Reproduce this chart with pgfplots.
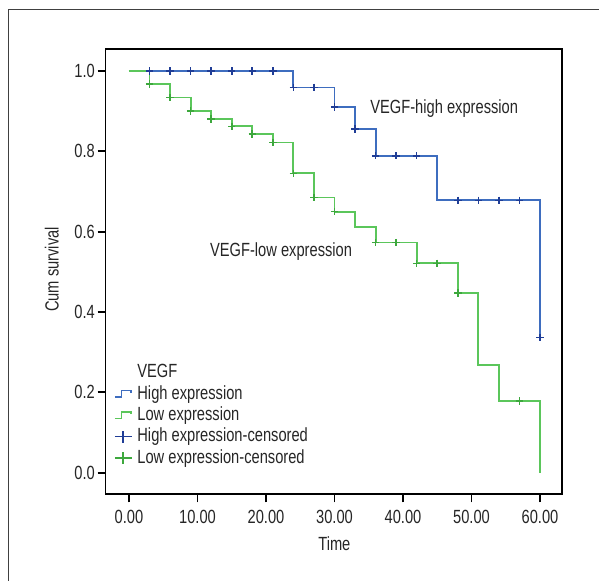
\documentclass[border=0pt]{standalone}
\usepackage{fontspec}
\setmainfont{Liberation Sans}[FakeStretch=0.77]
\usepackage{pgfplots}
\pgfplotsset{compat=1.18}

\definecolor{hiline}{HTML}{3E6DBF}
\definecolor{himark}{HTML}{1F3D96}
\definecolor{loline}{HTML}{5BC65B}
\definecolor{lomark}{HTML}{3DA83D}
\definecolor{txt}{HTML}{262626}

\begin{document}
\begin{tikzpicture}[x=0.75pt,y=0.75pt,font=\fontsize{14.3}{17}\selectfont]
\useasboundingbox (0,0) rectangle (599,581);
% outer frame, only top and left edges show
\draw[color=black!75, line width=0.8pt] (8.5,-20) -- (8.5,571.5) -- (620,571.5);

\begin{axis}[
    at={(79.125pt,65.025pt)}, anchor=south west,
    scale only axis,
    width=342.6pt, height=333.75pt,
    xmin=-3.43, xmax=63.26,
    ymin=-0.0538, ymax=1.054,
    axis line style={black, line width=1.3pt},
    tick style={black, line width=1.3pt},
    tick align=outside,
    major tick length=6pt,
    xtick pos=bottom, ytick pos=left,
    xtick={0,10,20,30,40,50,60},
    xticklabels={0.00,10.00,20.00,30.00,40.00,50.00,60.00},
    ytick={0,0.2,0.4,0.6,0.8,1.0},
    yticklabels={0.0,0.2,0.4,0.6,0.8,1.0},
    ticklabel style={text=txt, inner sep=0pt},
    yticklabel style={anchor=east, xshift=-1.8pt},
    xticklabel style={anchor=north, yshift=-6pt},
    xlabel={Time}, ylabel={Cum survival},
    label style={text=txt},
    xlabel style={at={(axis description cs:0.501,-0.112)}, anchor=center},
    ylabel style={at={(axis description cs:-0.1178,0.505)}, anchor=center},
    legend cell align=left,
    legend style={
        draw=none, fill=none, inner sep=0pt, outer sep=0pt,
        at={(axis description cs:0.0186,0.293)}, anchor=north west,
        nodes={inner sep=0pt, text=txt, text height=10.5pt, text depth=2.5pt},
        row sep=3pt,
        /tikz/every odd column/.append style={column sep=3.75pt},
    },
]
\addlegendimage{empty legend}

% High expression
\addplot[const plot, color=hiline, line width=1.4pt,
    legend image code/.code={\draw[hiline, line width=1.3pt] (0pt,-2.5pt) -- (5pt,-2.5pt) -- (5pt,2.5pt) -- (12.2pt,2.5pt) -- (12.2pt,0.8pt);}]
coordinates {(0,1) (24,0.959) (30,0.910) (33,0.856) (36,0.789) (45,0.678) (60,0.337)};

% Low expression
\addplot[const plot, color=loline, line width=1.4pt,
    legend image code/.code={\draw[loline, line width=1.3pt] (0pt,-2.5pt) -- (5pt,-2.5pt) -- (5pt,2.5pt) -- (12.2pt,2.5pt) -- (12.2pt,0.8pt);}]
coordinates {(0,1) (3,0.968) (6,0.934) (9,0.900) (12,0.881) (15,0.862) (18,0.843) (21,0.822) (24,0.745) (27,0.685) (30,0.650) (33,0.612) (36,0.573) (42,0.521) (48,0.447) (51,0.268) (54,0.178) (60,0)};

% censored marks
\addplot[only marks, mark=+, mark size=2.8pt, color=himark, mark options={line width=1.2pt},
    legend image code/.code={\draw[himark, line width=1.3pt] (0pt,0pt) -- (12.5pt,0pt) (6.25pt,-4.5pt) -- (6.25pt,4.5pt);}]
coordinates {(3,1) (6,1) (9,1) (12,1) (15,1) (18,1) (21,1) (24,0.959) (27,0.959) (30,0.910) (33,0.856) (36,0.789) (39,0.789) (42,0.789) (48,0.678) (51,0.678) (54,0.678) (57,0.678) (60,0.337)};

\addplot[only marks, mark=+, mark size=2.8pt, color=lomark, mark options={line width=1.2pt},
    legend image code/.code={\draw[lomark, line width=1.3pt] (0pt,0pt) -- (12.5pt,0pt) (6.25pt,-4.5pt) -- (6.25pt,4.5pt);}]
coordinates {(3,0.968) (6,0.934) (9,0.900) (12,0.881) (15,0.862) (18,0.843) (21,0.822) (24,0.745) (27,0.685) (30,0.650) (36,0.573) (39,0.573) (42,0.521) (45,0.521) (48,0.447) (57,0.178)};

\legend{VEGF, High expression, Low expression, High expression-censored, Low expression-censored}

\node[anchor=west, inner sep=0pt, text=txt] at (axis cs:35.2,0.907) {VEGF-high expression};
\node[anchor=west, inner sep=0pt, text=txt] at (axis cs:11.8,0.550) {VEGF-low expression};
\end{axis}
\end{tikzpicture}
\end{document}
